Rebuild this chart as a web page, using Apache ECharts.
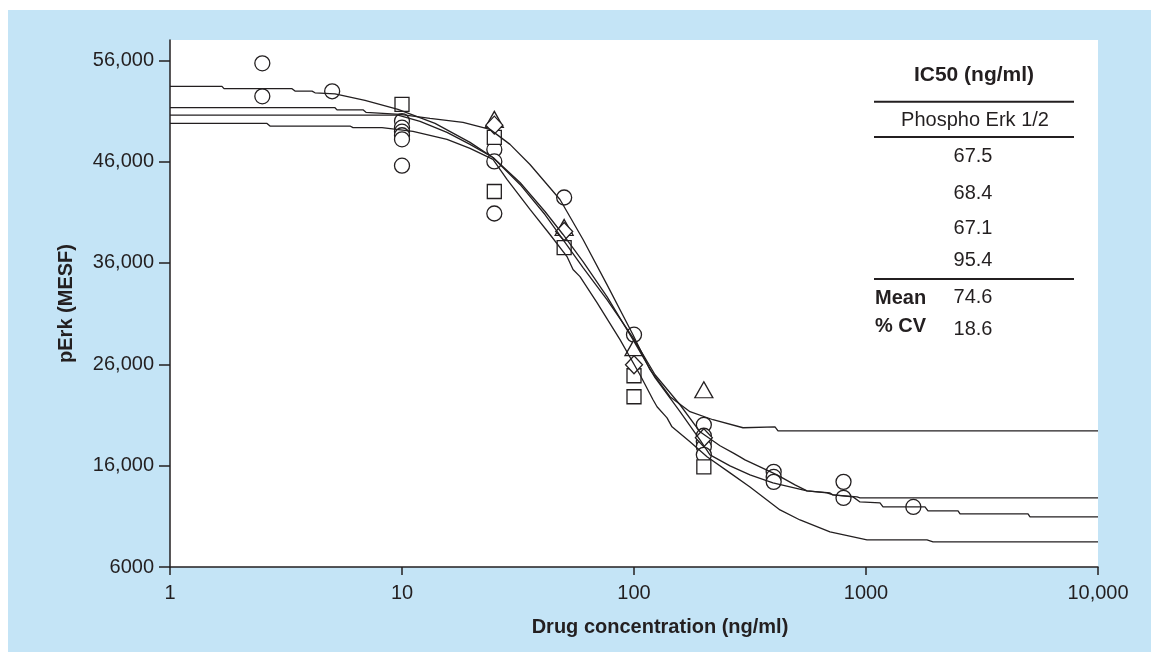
<!DOCTYPE html>
<html><head><meta charset="utf-8">
<script src="https://cdn.jsdelivr.net/npm/echarts@6/dist/echarts.min.js"></script>
<style>
html,body{margin:0;padding:0;background:#fff;width:1159px;height:660px;overflow:hidden}
#c{position:absolute;left:8px;top:10px;width:1143px;height:642px}
</style></head>
<body><div id="c"></div>
<script>
// Axis ticks
const xTicks = [1, 10, 100, 1000, 10000];
const yTicks = [6000, 16000, 26000, 36000, 46000, 56000];

// Measured points [concentration ng/ml, pErk MESF]
const circles = [[2.5,55700],[2.5,52440],[5,52940],
  [10,50000],[10,49350],[10,48950],[10,48600],[10,48200],[10,45600],
  [25,47200],[25,46020],[25,40880],[50,42460],[100,28920],
  [200,20030],[200,18950],[200,18350],[200,17860],[200,17070],
  [400,15390],[400,14890],[400,14400],[800,14400],[800,12820],[1600,11930]];
const squares = [[10,51650],[25,48400],[25,43050],[50,37520],[100,24870],[100,22800],[200,15880]];
const triangles = [[25,50170],[50,39500],[100,27640],[200,23490]];
const diamonds = [[25,49600],[50,39100],[100,25960],[200,18750]];

// Fitted curves
const curveA = [[1,53430],[1.675,53430],[1.709,53200],[3.357,53200],[3.458,52960],[4.094,52960],[4.217,52790],[5.143,52690],[6.926,52050],[9.611,51160],[13.88,49770],[19.64,47900],[24.67,46410],[32.26,43750],[41.33,40780],[49.43,38310],[60.30,35540],[76.48,32380],[99.0,28630],[123.2,24970],[157.9,22010],[192.5,19340],[234.8,17960],[267.2,17260],[286.3,16870],[300.9,16570],[349.2,15880],[413.4,15090],[494.3,14100],[556.9,13510],[699.5,13310],[720.9,13110],[914.5,12920],[942.3,12820],[10000,12820]];
const curveB = [[1,51320],[5.143,51320],[5.246,51110],[6.790,51110],[6.995,50860],[9.804,50660],[13.20,50270],[18.32,49870],[23.95,49180],[29.21,47700],[35.62,45720],[47.97,42260],[60.30,38310],[76.48,33860],[99.0,28920],[117.2,25470],[143.0,22800],[174.3,21320],[219.0,20530],[295.0,19740],[405.3,19830],[417.5,19440],[10000,19440]];
const curveC = [[1,50590],[9.611,50590],[11.96,49970],[15.63,48880],[19.64,47700],[24.67,46410],[32.26,43940],[41.33,41080],[49.43,38810],[60.30,36140],[76.48,32680],[99.0,28430],[123.2,24680],[157.9,21320],[192.5,18550],[212.6,17070],[259.3,15980],[316.2,15090],[397.2,14300],[556.9,13510],[679.0,13310],[720.9,13110],[879.0,12920],[942.3,12420],[1149,12320],[1184,11930],[1796,11930],[1850,11530],[2493,11530],[2543,11240],[4993,11240],[5093,10940],[10000,10940]];
const curveD = [[1,49770],[2.619,49770],[2.698,49510],[5.970,49510],[6.150,49350],[8.200,49350],[11.15,48980],[15.63,48190],[19.64,47300],[24.67,46220],[28.35,44240],[35.62,41280],[43.43,38810],[51.43,36630],[54.60,35350],[58.52,34650],[69.27,32090],[87.04,28430],[106.1,24970],[120.8,22500],[125.7,21810],[138.8,20720],[145.8,19830],[174.3,18350],[206.4,16870],[259.3,15290],[316.2,13900],[426.0,11630],[519.4,10640],[699.5,9460],[1010,8670],[1832,8670],[1945,8470],[10000,8470]];

// IC50 table
const tableTitle = 'IC50 (ng/ml)';
const tableHeader = 'Phospho Erk 1/2';
const ic50Values = ['67.5', '68.4', '67.1', '95.4'];
const meanValue = '74.6';
const cvValue = '18.6';

const INK = '#231f20';
const FONT = "'Liberation Sans', Arial, Helvetica, sans-serif";
function commas(v){ const s=String(v); return s.replace(/\B(?=(\d{3})+(?!\d))/g, ','); }

const chart = echarts.init(document.getElementById('c'), null, {renderer:'canvas'});

const lineS = (d) => ({type:'line', data:d, showSymbol:false, symbol:'none', smooth:false, z:3,
  lineStyle:{color:INK, width:1.3}, silent:true, animation:false});
const scat = (d, sym, size) => ({type:'scatter', data:d, symbol:sym, symbolSize:size, z:2,
  itemStyle:{color:'#fff', borderColor:INK, borderWidth:1.3, opacity:1}, animation:false});

const rowYs = [146.7, 183, 218, 250.7];
const graphics = [
  {type:'text', x:966, y:65, style:{text:tableTitle, fill:INK, font:"bold 21px "+FONT, textAlign:'center', textVerticalAlign:'middle'}},
  {type:'line', shape:{x1:866,y1:91.7,x2:1066,y2:91.7}, style:{stroke:INK, lineWidth:2}},
  {type:'text', x:967, y:110.7, style:{text:tableHeader, fill:INK, font:"20px "+FONT, textAlign:'center', textVerticalAlign:'middle'}},
  {type:'line', shape:{x1:866,y1:127,x2:1066,y2:127}, style:{stroke:INK, lineWidth:2}},
  {type:'line', shape:{x1:866,y1:269,x2:1066,y2:269}, style:{stroke:INK, lineWidth:2}},
  {type:'text', x:867, y:288, style:{text:'Mean', fill:INK, font:"bold 20px "+FONT, textAlign:'left', textVerticalAlign:'middle'}},
  {type:'text', x:965, y:287, style:{text:meanValue, fill:INK, font:"20px "+FONT, textAlign:'center', textVerticalAlign:'middle'}},
  {type:'text', x:867, y:316, style:{text:'% CV', fill:INK, font:"bold 20px "+FONT, textAlign:'left', textVerticalAlign:'middle'}},
  {type:'text', x:965, y:319, style:{text:cvValue, fill:INK, font:"20px "+FONT, textAlign:'center', textVerticalAlign:'middle'}}
];
ic50Values.forEach((v,i)=>graphics.push({type:'text', x:965, y:rowYs[i], style:{text:v, fill:INK, font:"20px "+FONT, textAlign:'center', textVerticalAlign:'middle'}}));

chart.setOption({
  backgroundColor:'#c4e4f6',
  animation:false,
  textStyle:{fontFamily:FONT, color:INK},
  grid:{left:162, top:30, right:53, bottom:85, show:true, backgroundColor:'#ffffff', borderWidth:0, containLabel:false},
  xAxis:{type:'log', logBase:10, min:1, max:10000,
    name:'Drug concentration (ng/ml)', nameLocation:'middle', nameGap:50,
    nameTextStyle:{fontWeight:'bold', fontSize:20, color:INK, fontFamily:FONT, padding:[0,0,0,52]},
    axisLine:{show:true, lineStyle:{color:INK, width:1.5}},
    axisTick:{show:true, inside:false, length:8, lineStyle:{color:INK, width:1.5}, customValues:xTicks},
    axisLabel:{show:true, margin:16, fontSize:20, color:INK, fontFamily:FONT, customValues:xTicks,
      formatter:(v)=> v>=10000 ? commas(v) : String(v)},
    splitLine:{show:false}, minorTick:{show:false}},
  yAxis:{type:'value', min:6000, max:58000, interval:10000,
    name:'pErk (MESF)', nameLocation:'middle', nameGap:94,
    nameTextStyle:{fontWeight:'bold', fontSize:20, color:INK, fontFamily:FONT},
    axisLine:{show:true, lineStyle:{color:INK, width:1.5}},
    axisTick:{show:true, inside:false, length:11, lineStyle:{color:INK, width:1.5}, customValues:yTicks},
    axisLabel:{show:true, margin:16, fontSize:20, color:INK, fontFamily:FONT, customValues:yTicks,
      formatter:(v)=> v>=10000 ? commas(v) : String(v)},
    splitLine:{show:false}},
  series:[
    scat(circles,'circle',15),
    scat(squares,'rect',14),
    scat(triangles,'triangle',[18,16]),
    scat(diamonds,'diamond',[17,18]),
    lineS(curveA), lineS(curveB), lineS(curveC), lineS(curveD)
  ],
  graphic:graphics
});
</script>
</body></html>
